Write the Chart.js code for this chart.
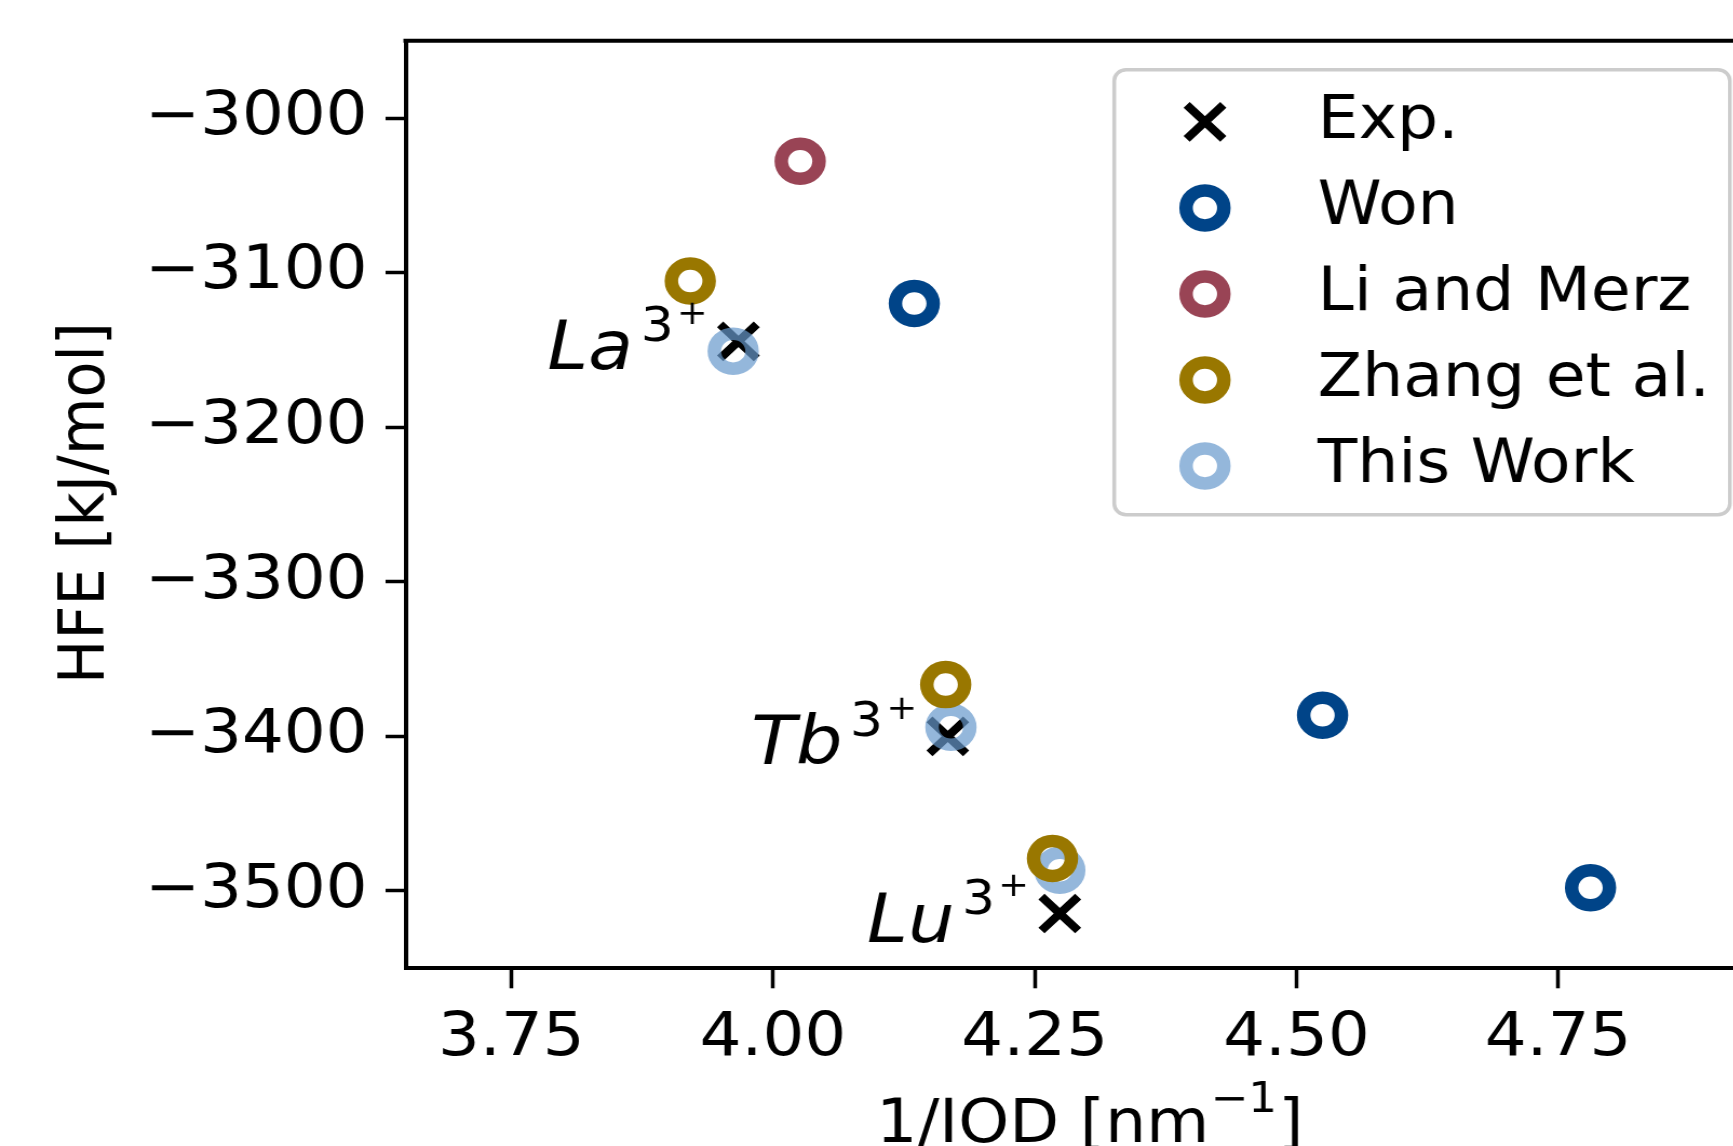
<!DOCTYPE html>
<html><head><meta charset="utf-8">
<script src="https://cdn.jsdelivr.net/npm/chart.js@4.4.1/dist/chart.umd.min.js"></script>
<style>
html,body{margin:0;padding:0;background:#fff;overflow:hidden;width:1733px;height:1146px;}
#wrap{position:absolute;left:0;top:0;width:1650px;height:1146px;transform:scaleX(1.08);transform-origin:0 0;}
canvas{display:block;}
</style></head><body>
<div id="wrap"><canvas id="c" width="1650" height="1146"></canvas></div>
<script>
// ---- data ----
const ions = ['La', 'Tb', 'Lu'];
const expX = [3.967, 4.167, 4.274];
const expY = [-3144.5, -3400, -3514.6];
const wonX = [4.135, 4.525, 4.781];
const wonY = [-3120, -3386.3, -3497.9];
const liMerzX = [4.026];
const liMerzY = [-3028];
const zhangX = [3.921, 4.165, 4.267];
const zhangY = [-3105.4, -3366.5, -3479];
const thisWorkX = [3.962, 4.170, 4.274];
const thisWorkY = [-3150.8, -3394.1, -3486.6];
const xTicks = [3.75, 4.00, 4.25, 4.50, 4.75];
const yTicks = [-3500, -3400, -3300, -3200, -3100, -3000];
const xLimits = [3.649, 4.944];
const yLimits = [-3550, -2950];
const legendLabels = ['Exp.', 'Won', 'Li and Merz', 'Zhang et al.', 'This Work'];
const xTitle = ['1/IOD [nm', '\u22121', ']'];
const yTitle = 'HFE [kJ/mol]';

// ---- styles ----
const FAM = '"DejaVu Sans", sans-serif';
const COLORS = {
  'Exp.': '#000000',
  'Won': '#004488',
  'Li and Merz': '#994455',
  'Zhang et al.': '#997700',
  'This Work': 'rgba(102,153,204,0.7)'
};
const pts = (xs, ys) => xs.map((v, i) => ({x: v, y: ys[i]}));
const ring = (label) => ({
  pointStyle: 'circle', pointRadius: 17.5, pointHoverRadius: 17.5,
  pointBorderWidth: 12.5, pointHoverBorderWidth: 12.5,
  pointBorderColor: COLORS[label], pointBackgroundColor: 'rgba(0,0,0,0)'
});
const cross = {
  pointStyle: 'crossRot', pointRadius: 24, pointHoverRadius: 24,
  pointBorderWidth: 8, pointHoverBorderWidth: 8,
  pointBorderColor: COLORS['Exp.'], pointBackgroundColor: 'rgba(0,0,0,0)'
};
const styleFor = (label) => label === 'Exp.' ? cross : ring(label);

const datasets = [
  Object.assign({label: 'Zhang et al.', data: pts(zhangX, zhangY), order: 0}, ring('Zhang et al.')),
  Object.assign({label: 'This Work', data: pts(thisWorkX, thisWorkY), order: 1}, ring('This Work')),
  Object.assign({label: 'Li and Merz', data: pts(liMerzX, liMerzY), order: 2}, ring('Li and Merz')),
  Object.assign({label: 'Won', data: pts(wonX, wonY), order: 3}, ring('Won')),
  Object.assign({label: 'Exp.', data: pts(expX, expY), order: 4}, cross)
];

function roundRectPath(ctx, x, y, w, h, r) {
  ctx.beginPath();
  ctx.moveTo(x + r, y);
  ctx.lineTo(x + w - r, y); ctx.arcTo(x + w, y, x + w, y + r, r);
  ctx.lineTo(x + w, y + h - r); ctx.arcTo(x + w, y + h, x + w - r, y + h, r);
  ctx.lineTo(x + r, y + h); ctx.arcTo(x, y + h, x, y + h - r, r);
  ctx.lineTo(x, y + r); ctx.arcTo(x, y, x + r, y, r);
  ctx.closePath();
}

const overlay = {
  id: 'overlay',
  afterDraw(chart) {
    const ctx = chart.ctx, a = chart.chartArea, xs = chart.scales.x, ys = chart.scales.y;
    ctx.save();
    // top and right spines
    ctx.strokeStyle = '#000'; ctx.lineWidth = 4; ctx.lineCap = 'square';
    ctx.beginPath(); ctx.moveTo(a.left, a.top); ctx.lineTo(a.right, a.top); ctx.lineTo(a.right, a.bottom); ctx.stroke();
    ctx.lineCap = 'butt';

    // legend
    const lw = 570, lh = 445;
    const lx = a.right - 29 - lw, ly = a.top + 29;
    roundRectPath(ctx, lx, ly, lw, lh, 11);
    ctx.fillStyle = 'rgba(255,255,255,0.8)'; ctx.fill();
    ctx.strokeStyle = '#cccccc'; ctx.lineWidth = 3.5; ctx.stroke();
    legendLabels.forEach((lab, i) => {
      const cy = ly + 52.2 + i * 86;
      const st = styleFor(lab);
      ctx.save();
      ctx.lineWidth = st.pointBorderWidth; ctx.strokeStyle = st.pointBorderColor; ctx.fillStyle = 'rgba(0,0,0,0)';
      Chart.helpers.drawPoint(ctx, {pointStyle: st.pointStyle, radius: st.pointRadius, borderWidth: st.pointBorderWidth, rotation: 0}, lx + 84, cy);
      ctx.restore();
      ctx.fillStyle = '#000'; ctx.font = '60px ' + FAM; ctx.textAlign = 'left'; ctx.textBaseline = 'alphabetic';
      ctx.fillText(lab, lx + 188.4, cy + 16);
    });

    // ion labels (italic symbol with 3+ superscript), anchored to the Exp. points
    ions.forEach((ion, i) => {
      const px = xs.getPixelForValue(expX[i]), py = ys.getPixelForValue(expY[i]);
      ctx.fillStyle = '#000'; ctx.textBaseline = 'alphabetic';
      ctx.font = '34px ' + FAM; ctx.textAlign = 'center';
      ctx.fillText('+', px - 42.7, py - 17.8);
      ctx.font = '48px ' + FAM; ctx.textAlign = 'right';
      ctx.fillText('3', px - 60, py);
      ctx.font = 'italic 68px ' + FAM; ctx.textAlign = 'right';
      ctx.fillText(ion, px - 97.5, py + 28);
    });

    // x title
    ctx.fillStyle = '#000'; ctx.textAlign = 'left'; ctx.textBaseline = 'alphabetic';
    ctx.font = '60px ' + FAM; const w1 = ctx.measureText(xTitle[0]).width, w3 = ctx.measureText(xTitle[2]).width;
    ctx.font = '42px ' + FAM; const ws = ctx.measureText(xTitle[1]).width;
    const cx = (a.left + a.right) / 2 + 6;
    let sx = cx - (w1 + ws + w3 + 2) / 2;
    const xb = 1141.7;
    ctx.font = '60px ' + FAM; ctx.fillText(xTitle[0], sx, xb); sx += w1 + 1;
    ctx.font = '42px ' + FAM; ctx.fillText(xTitle[1], sx, xb - 30); sx += ws + 1;
    ctx.font = '60px ' + FAM; ctx.fillText(xTitle[2], sx, xb);

    // y title
    ctx.save();
    ctx.translate(95.6, (a.top + a.bottom) / 2 - 1.5);
    ctx.rotate(-Math.PI / 2);
    ctx.font = '59px ' + FAM; ctx.textAlign = 'center'; ctx.textBaseline = 'alphabetic';
    ctx.fillText(yTitle, 0, 0);
    ctx.restore();

    ctx.restore();
  }
};

new Chart(document.getElementById('c'), {
  type: 'scatter',
  data: {datasets},
  options: {
    responsive: false, animation: false, devicePixelRatio: 1,
    layout: {autoPadding: false, padding: {left: 0, top: 40.7, right: 19.3, bottom: 0}},
    plugins: {legend: {display: false}, tooltip: {enabled: false}, title: {display: false}},
    events: [],
    scales: {
      x: {
        type: 'linear', position: 'bottom', min: xLimits[0], max: xLimits[1],
        afterBuildTicks: s => { s.ticks = xTicks.map(v => ({value: v})); },
        afterFit: s => { s.height = 1146 - 968.3; s.paddingLeft = 0; s.paddingRight = 0; s.paddingTop = 0; s.paddingBottom = 0; },
        border: {display: true, color: '#000', width: 4},
        grid: {display: true, drawOnChartArea: false, drawTicks: true, tickLength: 20, tickWidth: 3.5, tickColor: '#000'},
        ticks: {color: '#000', font: {family: FAM, size: 61}, padding: 14, maxRotation: 0, autoSkip: false,
                callback: v => Number(v).toFixed(2)}
      },
      y: {
        type: 'linear', position: 'left', min: yLimits[0], max: yLimits[1],
        afterBuildTicks: s => { s.ticks = yTicks.map(v => ({value: v})); },
        afterFit: s => { s.width = 375.5; s.paddingLeft = 0; s.paddingRight = 0; s.paddingTop = 0; s.paddingBottom = 0; },
        border: {display: true, color: '#000', width: 4},
        grid: {display: true, drawOnChartArea: false, drawTicks: true, tickLength: 18.5, tickWidth: 3.5, tickColor: '#000'},
        ticks: {color: '#000', font: {family: FAM, size: 61}, padding: 16.6, autoSkip: false,
                callback: v => (v < 0 ? '\u2212' + Math.abs(v) : String(v))}
      }
    }
  },
  plugins: [overlay]
});
</script>
</body></html>
